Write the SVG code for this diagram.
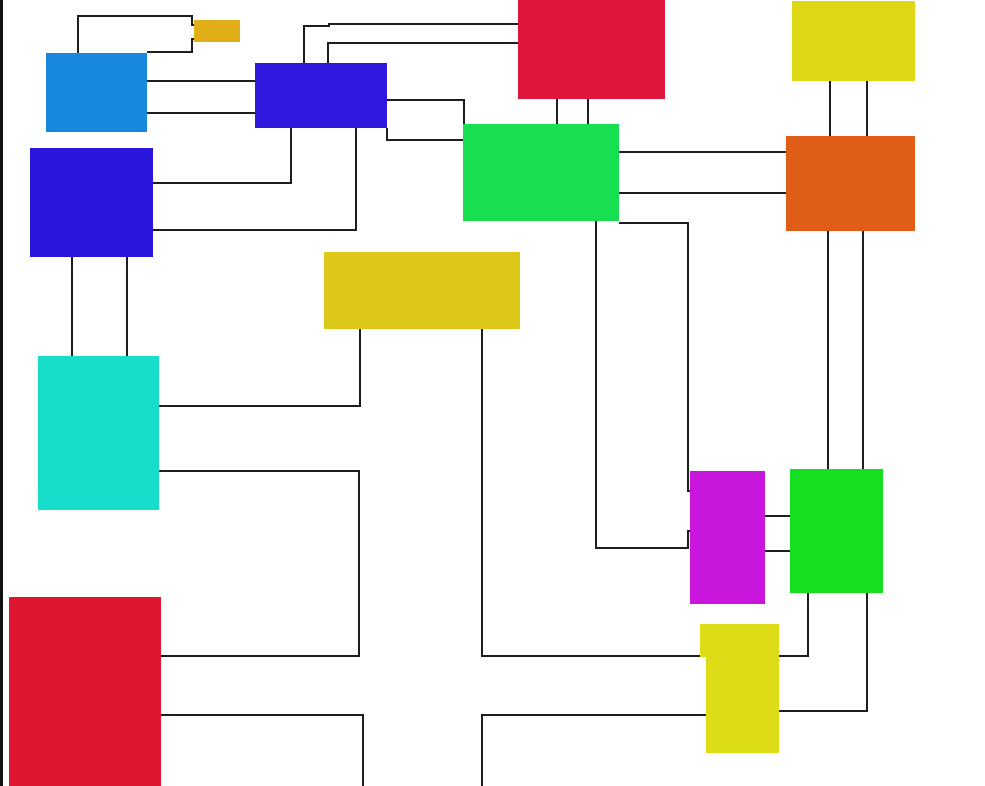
<svg xmlns="http://www.w3.org/2000/svg" width="985" height="786" viewBox="0 0 985 786">
<style>
.c path{fill:none;stroke:#1e1e1e;stroke-width:1.3;shape-rendering:crispEdges}
.n rect,.n path{stroke:none}
</style>
<rect x="0" y="0" width="985" height="786" fill="#ffffff"/>
<rect x="0" y="0" width="3" height="786" fill="#111111"/>
<g class="c" id="connectors">
<path d="M78,53 V16 H192 V25 H194"/>
<path d="M147,52 H192 V39 H194"/>
<path d="M147,81 H255"/>
<path d="M147,113 H255"/>
<path d="M304,63 V26 H329 V24 H518"/>
<path d="M328,63 V43 H518"/>
<path d="M387,100 H464 V124"/>
<path d="M387,128 V140 H463"/>
<path d="M291,128 V183 H153"/>
<path d="M356,128 V230 H153"/>
<path d="M557,99 V124"/>
<path d="M588,99 V124"/>
<path d="M619,152 H786"/>
<path d="M619,193 H786"/>
<path d="M619,223 H688 V491 H690"/>
<path d="M596,221 V548 H688 V531 H690"/>
<path d="M830,81 V136"/>
<path d="M867,81 V136"/>
<path d="M828,231 V469"/>
<path d="M863,231 V469"/>
<path d="M765,516 H790"/>
<path d="M765,551 H790"/>
<path d="M72,257 V356"/>
<path d="M127,257 V356"/>
<path d="M159,406 H360 V329"/>
<path d="M159,471 H359 V656 H161"/>
<path d="M482,329 V656 H700"/>
<path d="M779,656 H808 V593"/>
<path d="M779,711 H867 V593"/>
<path d="M161,715 H363 V786"/>
<path d="M706,715 H482 V786"/>
</g>
<g class="n">
<g id="n-orange-small"><rect x="194" y="20" width="46" height="22" fill="#E0AE17"/></g>
<g id="n-lightblue"><rect x="46" y="53" width="101" height="79" fill="#1888DD"/></g>
<g id="n-blue-mid"><rect x="255" y="63" width="132" height="65" fill="#3118DD"/></g>
<g id="n-blue-left"><rect x="30" y="148" width="123" height="109" fill="#2A15DD"/></g>
<g id="n-red-top"><rect x="518" y="0" width="147" height="99" fill="#DE163B"/></g>
<g id="n-yellow-tr"><rect x="792" y="1" width="123" height="80" fill="#DED816"/></g>
<g id="n-green"><rect x="463" y="124" width="156" height="97" fill="#17DF50"/></g>
<g id="n-orange"><rect x="786" y="136" width="129" height="95" fill="#E05D17"/></g>
<g id="n-yellow-mid"><rect x="324" y="252" width="196" height="77" fill="#DEC817"/></g>
<g id="n-cyan"><rect x="38" y="356" width="121" height="154" fill="#17DECB"/></g>
<g id="n-magenta"><rect x="690" y="471" width="75" height="133" fill="#C816DD"/></g>
<g id="n-green-bright"><rect x="790" y="469" width="93" height="124" fill="#16DF22"/></g>
<g id="n-red-bottom"><rect x="9" y="597" width="152" height="189" fill="#DF162F"/></g>
<g id="n-yellow-bottom"><path d="M700,624 H779 V753 H706 V657 H700 Z" fill="#DCDD17"/></g>
</g>
</svg>
